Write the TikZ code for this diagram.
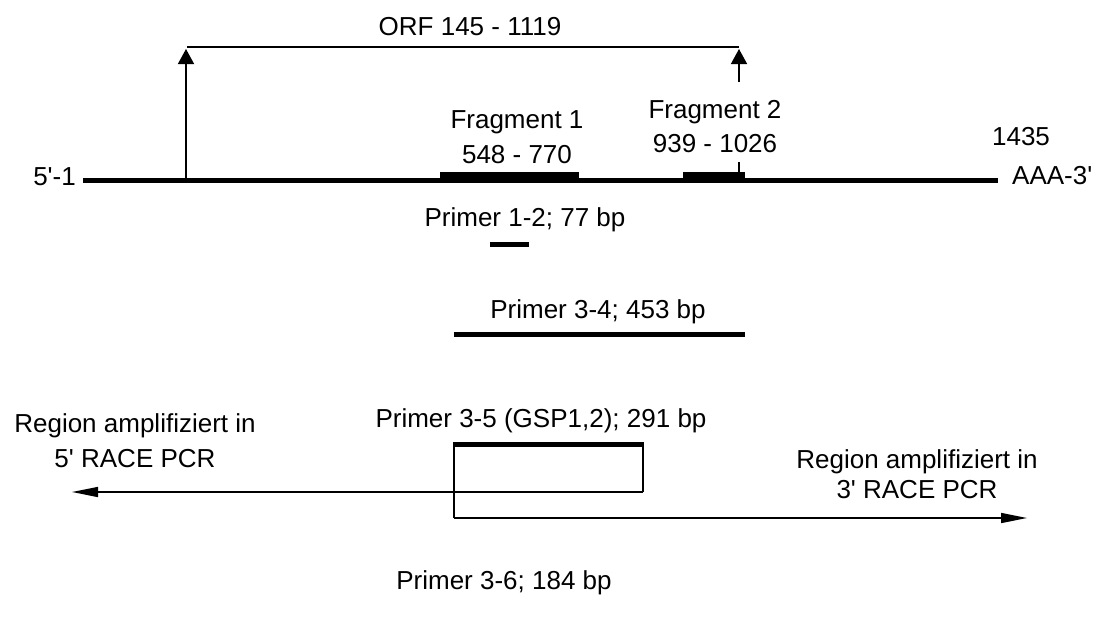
\documentclass[tikz,border=0pt]{standalone}
\usepackage{fontspec}
\setmainfont{Liberation Sans}
\usetikzlibrary{arrows.meta}
\newcommand{\sq}{\textquotesingle}
\begin{document}
\begin{tikzpicture}[x=1pt,y=-1pt,
  lbl/.style={inner sep=0pt, anchor=base, font=\fontsize{26}{32}\selectfont},
  thinl/.style={line width=1.5pt},
  mainl/.style={line width=5pt},
  bar/.style={fill=black, draw=none},
  orfarrow/.style={thinl, -{Triangle[length=15pt,width=16pt]}},
  racearrow/.style={thinl, -{Triangle[length=26pt,width=10pt]}}
]
\useasboundingbox (0,0) rectangle (1097,619);

% main mRNA line
\coordinate (m5) at (83,180);
\coordinate (m3) at (998,180);
\draw[mainl] (m5) -- (m3);
\node[lbl, anchor=base east] (l5) at (76,185) {5\sq-1};
\node[lbl, anchor=base west] (l3) at (1012,184) {AAA-3\sq};
\node[lbl] (n1435) at (1021,145) {1435};

% fragments
\fill[bar] (440,172) rectangle (579,182);
\fill[bar] (683,172) rectangle (745,182);
\node[lbl] (f1a) at (517,128) {Fragment 1};
\node[lbl] (f1b) at (517,163) {548 - 770};
\node[lbl] (f2a) at (715,118) {Fragment 2};
\node[lbl] (f2b) at (715,152) {939 - 1026};

% ORF
\coordinate (orfA) at (186,178);
\coordinate (orfAt) at (186,49);
\coordinate (orfH1) at (187,47);
\coordinate (orfH2) at (739,47);
\coordinate (orfB) at (739,82);
\coordinate (orfBt) at (739,49);
\coordinate (tick1) at (739,162);
\coordinate (tick2) at (739,173);
\draw[orfarrow] (orfA) -- (orfAt);
\draw[thinl] (orfH1) -- (orfH2);
\draw[orfarrow] (orfB) -- (orfBt);
\draw[thinl] (tick1) -- (tick2);
\node[lbl] (orf) at (470,35) {ORF 145 - 1119};

% primer 1-2
\node[lbl] (p12) at (525,226) {Primer 1-2; 77 bp};
\coordinate (p12a) at (490,244.5);
\coordinate (p12b) at (529,244.5);
\draw[mainl] (p12a) -- (p12b);

% primer 3-4
\node[lbl] (p34) at (598,318) {Primer 3-4; 453 bp};
\coordinate (p34a) at (454,334);
\coordinate (p34b) at (745,334);
\draw[mainl] (p34a) -- (p34b);

% primer 3-5 box
\node[lbl] (p35) at (541,427) {Primer 3-5 (GSP1,2); 291 bp};
\coordinate (bTL) at (454,444);
\coordinate (bTR) at (643,444);
\coordinate (bBL) at (454,492);
\coordinate (bBR) at (643,492);
\coordinate (bLow) at (454,518);
\draw[thinl] (bTL) -- (bBL) -- (bLow);
\draw[thinl] (bTR) -- (bBR);
\draw[line width=5pt] ([xshift=-0.75pt]bTL) -- ([xshift=0.75pt]bTR);

% RACE arrows
\coordinate (tip5) at (72,492);
\coordinate (tip3) at (1027,518);
\draw[racearrow] (bBR) -- (tip5);
\draw[racearrow] (bLow) -- (tip3);

\node[lbl] (r5a) at (135,432) {Region amplifiziert in};
\node[lbl] (r5b) at (135,467) {5\sq{} RACE PCR};
\node[lbl] (r3a) at (917,468) {Region amplifiziert in};
\node[lbl] (r3b) at (917,498) {3\sq{} RACE PCR};

% primer 3-6
\node[lbl] (p36) at (504,589) {Primer 3-6; 184 bp};
\end{tikzpicture}
\end{document}
